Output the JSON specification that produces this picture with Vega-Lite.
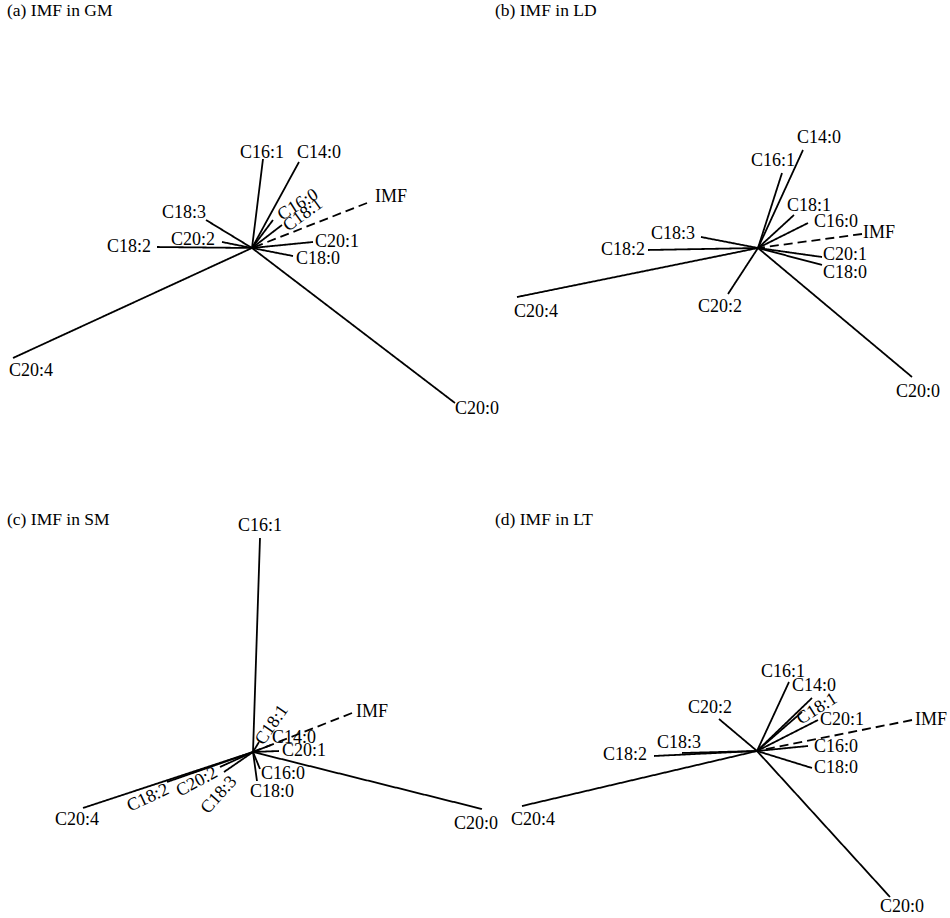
{
  "$schema": "https://vega.github.io/schema/vega-lite/v6.json",
  "padding": 0,
  "background": "white",
  "config": {
    "view": {"stroke": null},
    "concat": {"spacing": 0},
    "title": {"font": "Liberation Serif", "fontSize": 17.5, "fontWeight": "normal", "anchor": "start", "frame": "group", "offset": -19, "dx": 7, "color": "black"},
    "text": {"font": "Liberation Serif", "fontSize": 18, "color": "black"}
  },
  "datasets": {
    "loadings": [
      {"panel": "a", "var": "C16:1", "kind": "fatty acid", "x": 0.11, "y": 0.89, "lx": 0.10, "ly": 0.95, "rotation": 0},
      {"panel": "a", "var": "C14:0", "kind": "fatty acid", "x": 0.47, "y": 0.86, "lx": 0.67, "ly": 0.95, "rotation": 0},
      {"panel": "a", "var": "C16:0", "kind": "fatty acid", "x": 0.21, "y": 0.28, "lx": 0.46, "ly": 0.43, "rotation": -32},
      {"panel": "a", "var": "C18:1", "kind": "fatty acid", "x": 0.30, "y": 0.23, "lx": 0.51, "ly": 0.33, "rotation": -36},
      {"panel": "a", "var": "IMF", "kind": "IMF", "x": 1.15, "y": 0.45, "lx": 1.39, "ly": 0.51, "rotation": 0},
      {"panel": "a", "var": "C18:3", "kind": "fatty acid", "x": -0.46, "y": 0.28, "lx": -0.68, "ly": 0.35, "rotation": 0},
      {"panel": "a", "var": "C18:2", "kind": "fatty acid", "x": -0.95, "y": 0.01, "lx": -1.23, "ly": 0.01, "rotation": 0},
      {"panel": "a", "var": "C20:2", "kind": "fatty acid", "x": -0.30, "y": 0.06, "lx": -0.59, "ly": 0.08, "rotation": 0},
      {"panel": "a", "var": "C20:1", "kind": "fatty acid", "x": 0.61, "y": 0.06, "lx": 0.85, "ly": 0.06, "rotation": 0},
      {"panel": "a", "var": "C18:0", "kind": "fatty acid", "x": 0.41, "y": -0.08, "lx": 0.66, "ly": -0.11, "rotation": 0},
      {"panel": "a", "var": "C20:4", "kind": "fatty acid", "x": -2.39, "y": -1.10, "lx": -2.21, "ly": -1.23, "rotation": 0},
      {"panel": "a", "var": "C20:0", "kind": "fatty acid", "x": 2.03, "y": -1.55, "lx": 2.25, "ly": -1.61, "rotation": 0},

      {"panel": "b", "var": "C14:0", "kind": "fatty acid", "x": 0.45, "y": 0.98, "lx": 0.61, "ly": 1.10, "rotation": 0},
      {"panel": "b", "var": "C16:1", "kind": "fatty acid", "x": 0.24, "y": 0.75, "lx": 0.15, "ly": 0.87, "rotation": 0},
      {"panel": "b", "var": "C18:1", "kind": "fatty acid", "x": 0.36, "y": 0.33, "lx": 0.51, "ly": 0.42, "rotation": 0},
      {"panel": "b", "var": "C16:0", "kind": "fatty acid", "x": 0.50, "y": 0.25, "lx": 0.78, "ly": 0.26, "rotation": 0},
      {"panel": "b", "var": "IMF", "kind": "IMF", "x": 1.04, "y": 0.14, "lx": 1.21, "ly": 0.15, "rotation": 0},
      {"panel": "b", "var": "C20:1", "kind": "fatty acid", "x": 0.64, "y": -0.09, "lx": 0.87, "ly": -0.07, "rotation": 0},
      {"panel": "b", "var": "C18:0", "kind": "fatty acid", "x": 0.64, "y": -0.17, "lx": 0.87, "ly": -0.25, "rotation": 0},
      {"panel": "b", "var": "C18:3", "kind": "fatty acid", "x": -0.57, "y": 0.11, "lx": -0.85, "ly": 0.14, "rotation": 0},
      {"panel": "b", "var": "C18:2", "kind": "fatty acid", "x": -1.10, "y": -0.02, "lx": -1.35, "ly": -0.02, "rotation": 0},
      {"panel": "b", "var": "C20:4", "kind": "fatty acid", "x": -2.41, "y": -0.49, "lx": -2.22, "ly": -0.64, "rotation": 0},
      {"panel": "b", "var": "C20:2", "kind": "fatty acid", "x": -0.30, "y": -0.46, "lx": -0.38, "ly": -0.59, "rotation": 0},
      {"panel": "b", "var": "C20:0", "kind": "fatty acid", "x": 1.54, "y": -1.29, "lx": 1.60, "ly": -1.44, "rotation": 0},

      {"panel": "c", "var": "C16:1", "kind": "fatty acid", "x": 0.07, "y": 2.14, "lx": 0.07, "ly": 2.26, "rotation": 0},
      {"panel": "c", "var": "IMF", "kind": "IMF", "x": 0.99, "y": 0.39, "lx": 1.19, "ly": 0.40, "rotation": 0},
      {"panel": "c", "var": "C18:1", "kind": "fatty acid", "x": 0.06, "y": 0.10, "lx": 0.19, "ly": 0.27, "rotation": -55},
      {"panel": "c", "var": "C14:0", "kind": "fatty acid", "x": 0.18, "y": 0.07, "lx": 0.41, "ly": 0.14, "rotation": 0},
      {"panel": "c", "var": "C20:1", "kind": "fatty acid", "x": 0.26, "y": 0.01, "lx": 0.51, "ly": 0.01, "rotation": 0},
      {"panel": "c", "var": "C16:0", "kind": "fatty acid", "x": 0.07, "y": -0.17, "lx": 0.30, "ly": -0.22, "rotation": 0},
      {"panel": "c", "var": "C18:0", "kind": "fatty acid", "x": 0.04, "y": -0.29, "lx": 0.19, "ly": -0.40, "rotation": 0},
      {"panel": "c", "var": "C18:2", "kind": "fatty acid", "x": -0.86, "y": -0.30, "lx": -1.05, "ly": -0.46, "rotation": -25},
      {"panel": "c", "var": "C20:2", "kind": "fatty acid", "x": -0.33, "y": -0.15, "lx": -0.56, "ly": -0.30, "rotation": -28},
      {"panel": "c", "var": "C18:3", "kind": "fatty acid", "x": -0.29, "y": -0.20, "lx": -0.34, "ly": -0.43, "rotation": -48},
      {"panel": "c", "var": "C20:4", "kind": "fatty acid", "x": -1.70, "y": -0.56, "lx": -1.76, "ly": -0.68, "rotation": 0},
      {"panel": "c", "var": "C20:0", "kind": "fatty acid", "x": 2.29, "y": -0.57, "lx": 2.23, "ly": -0.72, "rotation": 0},

      {"panel": "d", "var": "C16:1", "kind": "fatty acid", "x": 0.32, "y": 0.69, "lx": 0.26, "ly": 0.79, "rotation": 0},
      {"panel": "d", "var": "C14:0", "kind": "fatty acid", "x": 0.55, "y": 0.53, "lx": 0.57, "ly": 0.65, "rotation": 0},
      {"panel": "d", "var": "C18:1", "kind": "fatty acid", "x": 0.45, "y": 0.39, "lx": 0.60, "ly": 0.42, "rotation": -32},
      {"panel": "d", "var": "C20:1", "kind": "fatty acid", "x": 0.61, "y": 0.31, "lx": 0.85, "ly": 0.31, "rotation": 0},
      {"panel": "d", "var": "IMF", "kind": "IMF", "x": 1.55, "y": 0.31, "lx": 1.74, "ly": 0.31, "rotation": 0},
      {"panel": "d", "var": "C16:0", "kind": "fatty acid", "x": 0.51, "y": 0.05, "lx": 0.79, "ly": 0.04, "rotation": 0},
      {"panel": "d", "var": "C18:0", "kind": "fatty acid", "x": 0.55, "y": -0.17, "lx": 0.79, "ly": -0.17, "rotation": 0},
      {"panel": "d", "var": "C20:2", "kind": "fatty acid", "x": -0.38, "y": 0.32, "lx": -0.47, "ly": 0.43, "rotation": 0},
      {"panel": "d", "var": "C18:3", "kind": "fatty acid", "x": -0.75, "y": -0.02, "lx": -0.78, "ly": 0.08, "rotation": 0},
      {"panel": "d", "var": "C18:2", "kind": "fatty acid", "x": -1.03, "y": -0.05, "lx": -1.32, "ly": -0.04, "rotation": 0},
      {"panel": "d", "var": "C20:4", "kind": "fatty acid", "x": -2.35, "y": -0.55, "lx": -2.24, "ly": -0.69, "rotation": 0},
      {"panel": "d", "var": "C20:0", "kind": "fatty acid", "x": 1.33, "y": -1.46, "lx": 1.45, "ly": -1.56, "rotation": 0}
    ]
  },
  "columns": 2,
  "bounds": "flush",
  "align": "each",
  "spacing": 0,
  "concat": [
    {
      "title": "(a) IMF in GM",
      "width": 488, "height": 509,
      "data": {"name": "loadings"},
      "transform": [{"filter": "datum.panel === 'a'"}],
      "layer": [
        {"mark": {"type": "rule", "strokeWidth": 1.8, "color": "black"},
         "encoding": {
           "x": {"field": "x", "type": "quantitative", "axis": null, "scale": {"domain": [-2.52, 2.36], "nice": false, "zero": false}},
           "y": {"field": "y", "type": "quantitative", "axis": null, "scale": {"domain": [-2.61, 2.48], "nice": false, "zero": false}},
           "x2": {"datum": 0}, "y2": {"datum": 0},
           "strokeDash": {"field": "kind", "type": "nominal", "legend": null, "scale": {"domain": ["fatty acid", "IMF"], "range": [[1, 0], [9, 5]]}}
         }},
        {"mark": {"type": "text", "align": "center", "baseline": "middle"},
         "encoding": {
           "x": {"field": "lx", "type": "quantitative"},
           "y": {"field": "ly", "type": "quantitative"},
           "text": {"field": "var"},
           "angle": {"field": "rotation", "type": "quantitative", "scale": null}
         }}
      ]
    },
    {
      "title": "(b) IMF in LD",
      "width": 462, "height": 509,
      "data": {"name": "loadings"},
      "transform": [{"filter": "datum.panel === 'b'"}],
      "layer": [
        {"mark": {"type": "rule", "strokeWidth": 1.8, "color": "black"},
         "encoding": {
           "x": {"field": "x", "type": "quantitative", "axis": null, "scale": {"domain": [-2.70, 1.92], "nice": false, "zero": false}},
           "y": {"field": "y", "type": "quantitative", "axis": null, "scale": {"domain": [-2.61, 2.48], "nice": false, "zero": false}},
           "x2": {"datum": 0}, "y2": {"datum": 0},
           "strokeDash": {"field": "kind", "type": "nominal", "legend": null, "scale": {"domain": ["fatty acid", "IMF"], "range": [[1, 0], [9, 5]]}}
         }},
        {"mark": {"type": "text", "align": "center", "baseline": "middle"},
         "encoding": {
           "x": {"field": "lx", "type": "quantitative"},
           "y": {"field": "ly", "type": "quantitative"},
           "text": {"field": "var"},
           "angle": {"field": "rotation", "type": "quantitative", "scale": null}
         }}
      ]
    },
    {
      "title": "(c) IMF in SM",
      "width": 488, "height": 409,
      "data": {"name": "loadings"},
      "transform": [{"filter": "datum.panel === 'c'"}],
      "layer": [
        {"mark": {"type": "rule", "strokeWidth": 1.8, "color": "black"},
         "encoding": {
           "x": {"field": "x", "type": "quantitative", "axis": null, "scale": {"domain": [-2.53, 2.35], "nice": false, "zero": false}},
           "y": {"field": "y", "type": "quantitative", "axis": null, "scale": {"domain": [-1.66, 2.43], "nice": false, "zero": false}},
           "x2": {"datum": 0}, "y2": {"datum": 0},
           "strokeDash": {"field": "kind", "type": "nominal", "legend": null, "scale": {"domain": ["fatty acid", "IMF"], "range": [[1, 0], [9, 5]]}}
         }},
        {"mark": {"type": "text", "align": "center", "baseline": "middle"},
         "encoding": {
           "x": {"field": "lx", "type": "quantitative"},
           "y": {"field": "ly", "type": "quantitative"},
           "text": {"field": "var"},
           "angle": {"field": "rotation", "type": "quantitative", "scale": null}
         }}
      ]
    },
    {
      "title": "(d) IMF in LT",
      "width": 462, "height": 409,
      "data": {"name": "loadings"},
      "transform": [{"filter": "datum.panel === 'd'"}],
      "layer": [
        {"mark": {"type": "rule", "strokeWidth": 1.8, "color": "black"},
         "encoding": {
           "x": {"field": "x", "type": "quantitative", "axis": null, "scale": {"domain": [-2.69, 1.93], "nice": false, "zero": false}},
           "y": {"field": "y", "type": "quantitative", "axis": null, "scale": {"domain": [-1.67, 2.42], "nice": false, "zero": false}},
           "x2": {"datum": 0}, "y2": {"datum": 0},
           "strokeDash": {"field": "kind", "type": "nominal", "legend": null, "scale": {"domain": ["fatty acid", "IMF"], "range": [[1, 0], [9, 5]]}}
         }},
        {"mark": {"type": "text", "align": "center", "baseline": "middle"},
         "encoding": {
           "x": {"field": "lx", "type": "quantitative"},
           "y": {"field": "ly", "type": "quantitative"},
           "text": {"field": "var"},
           "angle": {"field": "rotation", "type": "quantitative", "scale": null}
         }}
      ]
    }
  ]
}
